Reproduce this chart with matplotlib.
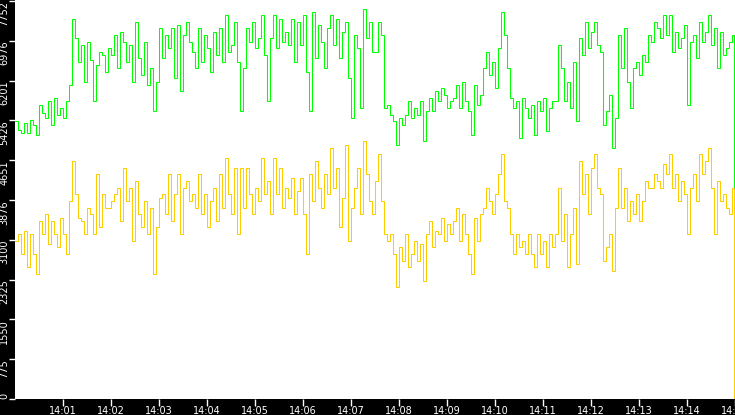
import matplotlib
matplotlib.use("Agg")
import matplotlib.pyplot as plt
import matplotlib.dates as mdates
import pandas as pd
import numpy as np

# ---- data ----
green = [
    # 14:00:00 - 14:03:45
    5408, 5246, 5182, 5375, 5182, 5440, 5343, 5149, 5731, 5569, 5472, 5795, 5343, 5860, 5537, 5666,
    5472, 5795, 6118, 7410, 7022, 6570, 6893, 6183, 6958, 6603, 5795, 6506, 6764, 6699, 6376, 6829,
    6699, 7087, 6441, 7152, 6958, 6570, 6893, 6183, 7345, 6635, 6312, 6958, 6118, 6441, 5601, 6183,
    7216, 6635, 7087, 6829, 7216, 6247, 7281, 5989, 7087, 7345, 6958, 6764,
    # 14:03:45 - 14:07:30
    6441, 7216, 6570, 7087, 6829, 6376, 7152, 6699, 7216, 6570, 7475, 6764, 6893, 7345, 6570, 5601,
    6441, 7216, 6958, 7345, 6829, 7022, 7475, 6699, 5795, 7022, 7475, 6829, 7410, 6958, 7152, 6893,
    7410, 6570, 7345, 6893, 7475, 6376, 5601, 7539, 6635, 7281, 6958, 6441, 7216, 7475, 6893, 7410,
    6635, 7152, 7345, 6247, 5472, 7087, 6829, 5666, 7604, 7022, 7345, 6764,
    # 14:07:30 - 14:11:15
    6764, 7345, 7087, 5666, 5731, 5537, 5408, 4955, 5472, 5343, 5537, 5795, 5472, 5666, 5537, 5795,
    5020, 5601, 5860, 5601, 5989, 5795, 6054, 5924, 5666, 5795, 5860, 6118, 5666, 6183, 5795, 5601,
    5149, 6118, 5731, 5924, 6441, 6764, 6312, 6570, 6054, 6829, 7539, 7087, 6441, 5860, 5666, 5795,
    5085, 5860, 5666, 5472, 5731, 5149, 5795, 5601, 5860, 5214, 5666, 5795,
    # 14:11:15 - 14:15:00
    5795, 6893, 6441, 5795, 6183, 5666, 6570, 5408, 7022, 6699, 7345, 6829, 7152, 7345, 6893, 6764,
    5343, 5601, 5924, 4891, 5472, 7087, 6441, 7216, 6183, 5666, 6441, 6570, 6312, 6699, 6570, 7087,
    6958, 7345, 7216, 7022, 7475, 7087, 7475, 6764, 7152, 6829, 7022, 7281, 5731, 6958, 7087, 6635,
    7345, 6958, 7152, 7475, 6893, 7216, 6441, 7152, 6699, 6829, 6958, 7087,
    2100,
]

yellow = [
    # 14:00:00 - 14:03:45
    3082, 3212, 2824, 3276, 2566, 3212, 2824, 2436, 3470, 3212, 3599, 3018, 3470, 3212, 2953, 3534,
    3212, 2824, 3857, 4632, 3986, 3534, 3470, 3212, 3728, 3599, 3212, 4374, 3341, 3986, 3728, 3728,
    3857, 3986, 4116, 3470, 4503, 3857, 4116, 3082, 4245, 3599, 3341, 3857, 3212, 3728, 2436, 3341,
    3922, 3986, 3599, 4374, 3470, 3986, 4374, 3212, 4116, 4245, 3857, 3986,
    # 14:03:45 - 14:07:30
    3728, 4374, 3599, 3986, 3341, 3857, 4116, 3470, 4374, 3728, 4697, 3986, 3599, 4503, 3212, 4503,
    3728, 4503, 3986, 3599, 4116, 3857, 4697, 3986, 4245, 3599, 4697, 3986, 4503, 3728, 4116, 3922,
    4309, 3599, 4051, 4309, 3599, 2824, 4374, 3857, 4632, 4116, 3728, 4374, 3986, 4891, 4116, 4503,
    3341, 3922, 4955, 3082, 3728, 4116, 4503, 3599, 5020, 4374, 3857, 3599,
    # 14:07:30 - 14:11:15
    4245, 4762, 3857, 3212, 3082, 3212, 2824, 2178, 2953, 2695, 3212, 2566, 2824, 3082, 2695, 3018,
    2307, 3212, 3470, 2953, 3276, 3212, 3534, 3082, 3405, 3212, 3470, 3728, 3082, 3599, 3212, 2824,
    2436, 3534, 3082, 3599, 3728, 4116, 3857, 3599, 3986, 4374, 4762, 3857, 3728, 3212, 2824, 3212,
    2953, 3082, 2824, 3212, 2824, 2566, 3212, 2824, 3082, 2566, 3212, 2953,
    # 14:11:15 - 14:15:00
    3212, 4116, 3082, 3599, 2566, 3212, 3728, 2630, 4632, 3986, 4374, 3599, 4503, 4762, 4116, 3986,
    2695, 2953, 3212, 2501, 3728, 4503, 3728, 4116, 3470, 3857, 3599, 3986, 3470, 3857, 4245, 4116,
    4116, 4374, 4245, 4116, 4568, 4374, 4762, 4116, 4374, 3857, 4245, 3986, 3212, 4116, 4374, 3857,
    4762, 4374, 4632, 4891, 4116, 3212, 4245, 3857, 3986, 3728, 3599, 4116,
    0,
]

y_ticks = [0, 775, 1550, 2325, 3100, 3876, 4651, 5426, 6201, 6976, 7752]

start = pd.Timestamp("2024-01-01 14:00:00")
end = pd.Timestamp("2024-01-01 14:15:00")
times = list(pd.date_range(start, periods=len(green) - 1, freq="3750ms")) + [pd.Timestamp("2024-01-01 14:14:59")]

# ---- figure ----
fig = plt.figure(figsize=(7.35, 4.15), dpi=100, facecolor="black")
ax = fig.add_axes([15 / 735, 16 / 415, 720 / 735, 399 / 415])
ax.set_facecolor("white")

ax.plot(times, green, color="#00ff00", lw=0.75, drawstyle="steps-post", solid_joinstyle="miter")
ax.plot(times, yellow, color="#ffcc00", lw=0.75, drawstyle="steps-post", solid_joinstyle="miter")

ax.set_xlim(start, end)
ax.set_ylim(0, 7771)

for s in ax.spines.values():
    s.set_visible(False)

ax.set_yticks(y_ticks)
ax.set_yticklabels([str(v) for v in y_ticks], rotation=90, va="top")
ax.get_yticklabels()[0].set_va("bottom")
ax.xaxis.set_major_locator(mdates.MinuteLocator(byminute=range(1, 16)))
ax.xaxis.set_major_formatter(mdates.DateFormatter("%H:%M"))

ax.tick_params(axis="both", colors="white", labelcolor="white", labelsize=7,
               direction="out", width=1)
ax.tick_params(axis="y", length=4, pad=0)
ax.tick_params(axis="x", length=5, pad=0)

fig.savefig("out.png", dpi=100, facecolor="black")
